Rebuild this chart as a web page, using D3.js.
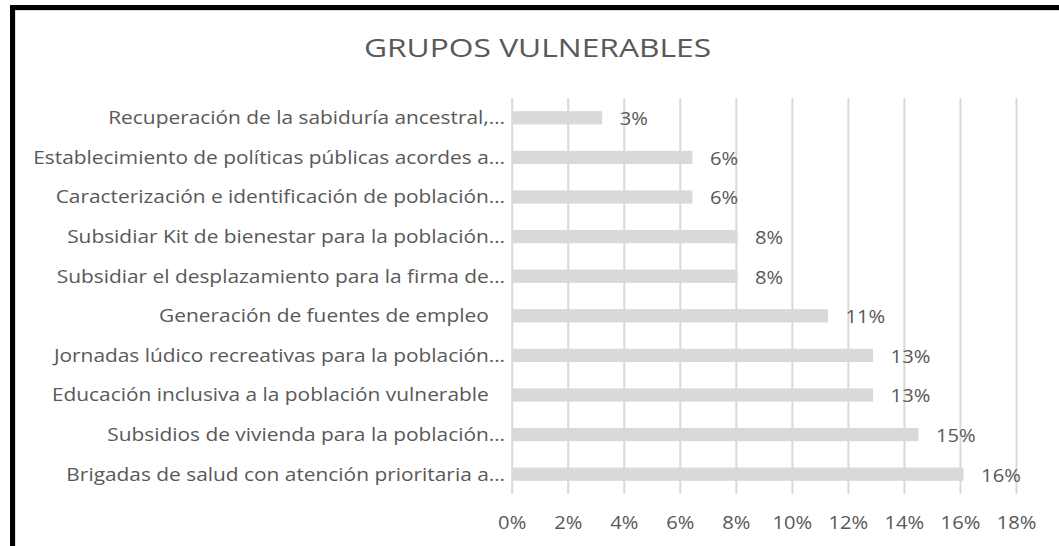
<!DOCTYPE html>
<html>
<head>
<meta charset="utf-8">
<script src="https://cdn.jsdelivr.net/npm/d3@7"></script>
<style>
  html, body { margin: 0; padding: 0; background: #fff; }
  svg { display: block; }
  text { font-family: "Open Sans", "Noto Sans", sans-serif; fill: #595959; }
</style>
</head>
<body>
<svg id="chart" width="1059" height="546"></svg>
<script>
const title = "GRUPOS VULNERABLES";
const categories = [
  "Recuperación de la sabiduría ancestral,…",
  "Establecimiento de políticas públicas acordes a…",
  "Caracterización e identificación de población…",
  "Subsidiar Kit de bienestar para la población…",
  "Subsidiar el desplazamiento para la firma de…",
  "Generación de fuentes de empleo   ",
  "Jornadas lúdico recreativas para la población…",
  "Educación inclusiva a la población vulnerable   ",
  "Subsidios de vivienda para la población…",
  "Brigadas de salud con atención prioritaria a…"
];
const values = [0.0323, 0.0645, 0.0645, 0.0806, 0.0806, 0.1129, 0.129, 0.129, 0.1452, 0.1613];
const tickValues = [0, 0.02, 0.04, 0.06, 0.08, 0.10, 0.12, 0.14, 0.16, 0.18];

const svg = d3.select("#chart");
const W = 1059, H = 546;
const stretch = 1.12;
const catStretch = 1.16;
const fmt = d3.format(".0%");

svg.append("rect").attr("x", 0).attr("y", 0).attr("width", W).attr("height", H).attr("fill", "#fff");

// frame
svg.append("rect").attr("x", 15.5).attr("y", 10.5).attr("width", 1100).attr("height", 600)
  .attr("fill", "none").attr("stroke", "#d9d9d9").attr("stroke-width", 1);
svg.append("rect").attr("x", 12.5).attr("y", 7.5).attr("width", 1100).attr("height", 600)
  .attr("fill", "none").attr("stroke", "#000").attr("stroke-width", 5);

const plotTop = 98, plotBottom = 494;
const x = d3.scaleLinear().domain([0, 0.18]).range([511.7, 1016]);
const y = d3.scaleBand().domain(categories).range([plotTop, plotBottom])
  .paddingInner(0.665).paddingOuter(0.3325);

// title
svg.append("text")
  .attr("transform", `translate(537.5,57) scale(1.27,1)`)
  .attr("text-anchor", "middle")
  .style("font-size", "25px")
  .text(title);

// x axis with gridlines
const xAxis = svg.append("g")
  .attr("transform", `translate(0,${plotBottom})`)
  .call(d3.axisBottom(x).tickValues(tickValues).tickFormat(fmt)
    .tickSize(-(plotBottom - plotTop)).tickPadding(22));
xAxis.select(".domain").remove();
xAxis.selectAll(".tick line").attr("stroke", "#d9d9d9").attr("stroke-width", 2);
xAxis.selectAll(".tick text")
  .attr("transform", `scale(${stretch},1)`)
  .style("font-size", "18px")
  .attr("fill", "#595959");

// bars
svg.append("g").selectAll("rect")
  .data(values)
  .join("rect")
  .attr("x", x(0))
  .attr("y", (d, i) => y(categories[i]))
  .attr("width", d => x(d) - x(0))
  .attr("height", y.bandwidth())
  .attr("fill", "#d9d9d9");

// category labels
svg.append("g").selectAll("text")
  .data(categories)
  .join("text")
  .attr("transform", d => `translate(505,${y(d) + y.bandwidth() / 2}) scale(${catStretch},1)`)
  .attr("text-anchor", "end")
  .attr("dy", "0.35em")
  .attr("xml:space", "preserve")
  .style("white-space", "pre")
  .style("font-size", "18px")
  .text(d => d);

// data labels
svg.append("g").selectAll("text")
  .data(values)
  .join("text")
  .attr("transform", (d, i) => `translate(${x(d) + 17.5},${y(categories[i]) + y.bandwidth() / 2 + 1}) scale(${stretch},1)`)
  .attr("text-anchor", "start")
  .attr("dy", "0.35em")
  .style("font-size", "18px")
  .text(d => fmt(d));
</script>
</body>
</html>
